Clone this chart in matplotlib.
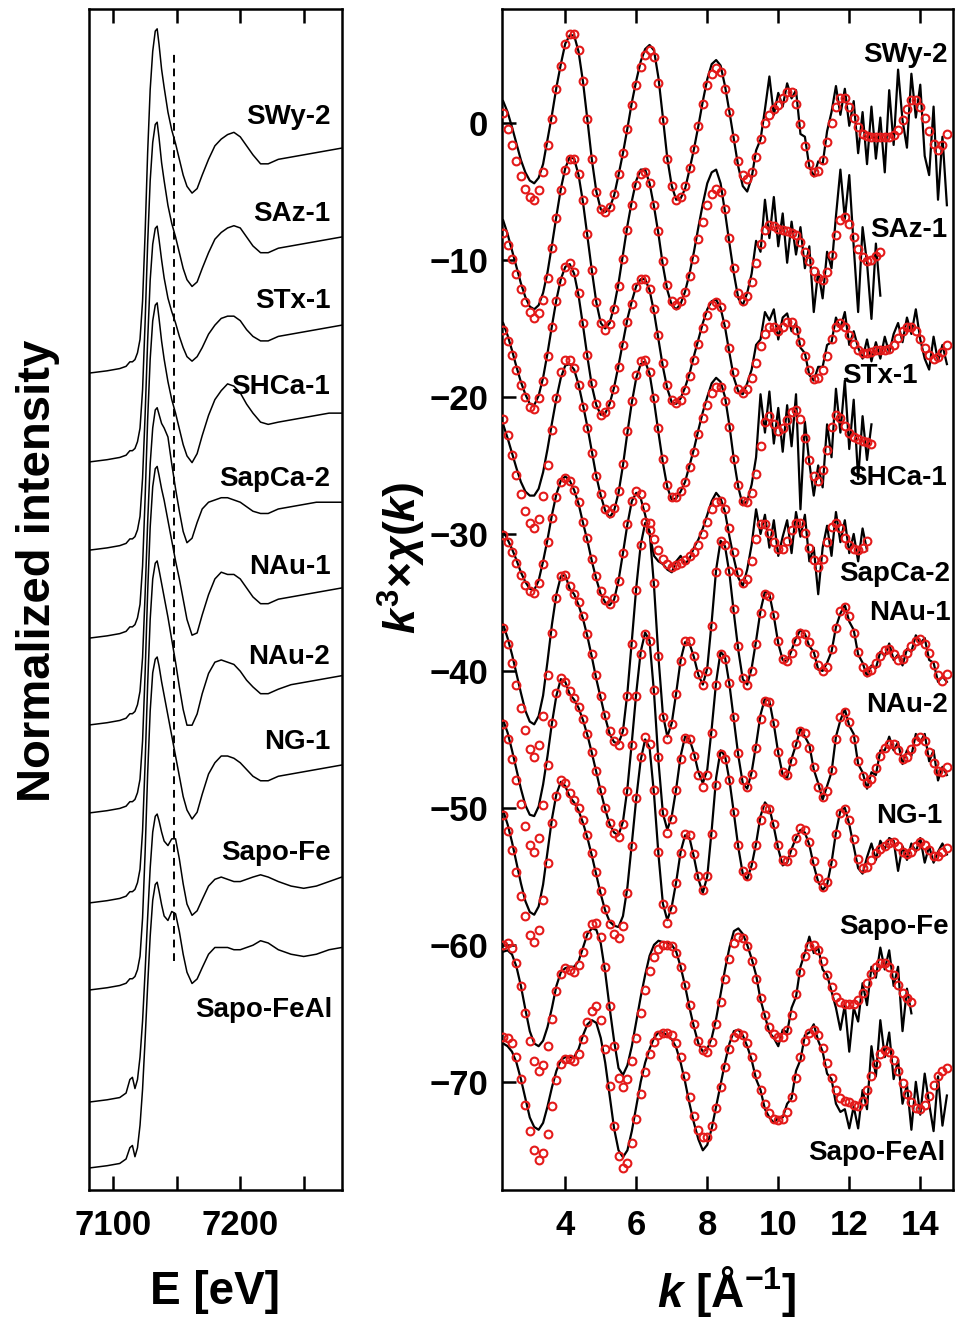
import numpy as np
import matplotlib.pyplot as plt

# Fuente tipo Arial en negrita para todo
plt.rcParams['font.family'] = ['Liberation Sans', 'DejaVu Sans']
plt.rcParams['font.weight'] = 'bold'
plt.rcParams['mathtext.fontset'] = 'custom'
plt.rcParams['mathtext.it'] = 'Liberation Sans:italic:bold'
plt.rcParams['mathtext.bf'] = 'Liberation Sans:bold'
plt.rcParams['mathtext.rm'] = 'Liberation Sans:bold'

muestras = ['SWy-2', 'SAz-1', 'STx-1', 'SHCa-1', 'SapCa-2',
            'NAu-1', 'NAu-2', 'NG-1', 'Sapo-Fe', 'Sapo-FeAl']

# ---------------- XANES (panel izquierdo) ----------------
energia = [7081, 7095, 7105, 7110, 7113, 7115, 7117, 7119, 7121, 7123, 7125, 7127,
           7129, 7131, 7133, 7134.5, 7136, 7138, 7140, 7143, 7146, 7149, 7152, 7155,
           7158, 7162, 7166, 7170, 7175, 7180, 7185, 7190, 7195, 7200, 7205, 7210,
           7216, 7222, 7230, 7240, 7250, 7260, 7270, 7280]

xanes_swy2 = [0.00, 0.01, 0.02, 0.03, 0.05, 0.05, 0.06, 0.09, 0.15, 0.32, 0.62, 0.98,
              1.26, 1.43, 1.52, 1.53, 1.46, 1.35, 1.27, 1.16, 1.08, 1.02, 0.95, 0.88,
              0.83, 0.80, 0.82, 0.88, 0.95, 1.01, 1.04, 1.06, 1.07, 1.05, 1.01, 0.97,
              0.93, 0.93, 0.95, 0.96, 0.97, 0.98, 0.99, 1.00]
xanes_saz1 = [0.00, 0.01, 0.02, 0.03, 0.05, 0.05, 0.06, 0.09, 0.15, 0.32, 0.62, 0.97,
              1.25, 1.42, 1.50, 1.51, 1.44, 1.33, 1.25, 1.14, 1.06, 1.00, 0.93, 0.86,
              0.81, 0.78, 0.80, 0.86, 0.93, 0.99, 1.02, 1.04, 1.05, 1.04, 1.00, 0.96,
              0.93, 0.93, 0.95, 0.96, 0.97, 0.98, 0.99, 1.00]
xanes_stx1 = [0.00, 0.01, 0.02, 0.03, 0.05, 0.05, 0.06, 0.09, 0.15, 0.32, 0.60, 0.93,
              1.20, 1.36, 1.43, 1.44, 1.38, 1.29, 1.21, 1.12, 1.06, 1.01, 0.95, 0.90,
              0.86, 0.84, 0.86, 0.90, 0.96, 1.00, 1.03, 1.04, 1.04, 1.02, 0.98, 0.95,
              0.93, 0.93, 0.95, 0.96, 0.97, 0.98, 0.99, 1.00]
xanes_shca1 = [0.00, 0.01, 0.02, 0.03, 0.05, 0.05, 0.06, 0.09, 0.15, 0.32, 0.62, 0.97,
               1.24, 1.41, 1.48, 1.49, 1.42, 1.32, 1.24, 1.14, 1.06, 1.00, 0.93, 0.86,
               0.81, 0.78, 0.82, 0.90, 0.99, 1.06, 1.10, 1.13, 1.12, 1.09, 1.04, 1.00,
               0.96, 0.95, 0.96, 0.97, 0.98, 0.99, 1.00, 1.00]
xanes_sapca2 = [0.00, 0.01, 0.02, 0.03, 0.05, 0.05, 0.06, 0.09, 0.15, 0.30, 0.58, 0.90,
                1.16, 1.32, 1.40, 1.41, 1.38, 1.34, 1.32, 1.28, 1.16, 1.05, 0.95, 0.86,
                0.81, 0.83, 0.90, 0.96, 0.99, 1.00, 1.01, 1.01, 1.00, 0.99, 0.97, 0.95,
                0.94, 0.94, 0.96, 0.97, 0.98, 0.99, 0.99, 0.99]
xanes_nau1 = [0.00, 0.01, 0.02, 0.03, 0.05, 0.05, 0.06, 0.09, 0.15, 0.32, 0.62, 0.98,
              1.27, 1.45, 1.53, 1.54, 1.50, 1.44, 1.39, 1.30, 1.21, 1.12, 1.04, 0.95,
              0.86, 0.79, 0.80, 0.88, 0.97, 1.04, 1.07, 1.06, 1.06, 1.04, 1.00, 0.96,
              0.93, 0.93, 0.95, 0.96, 0.97, 0.98, 0.99, 1.00]
xanes_nau2 = [0.00, 0.01, 0.02, 0.03, 0.05, 0.05, 0.06, 0.09, 0.15, 0.32, 0.62, 0.97,
              1.26, 1.44, 1.51, 1.52, 1.48, 1.42, 1.36, 1.27, 1.17, 1.07, 0.96, 0.86,
              0.79, 0.79, 0.84, 0.93, 1.02, 1.07, 1.08, 1.07, 1.06, 1.03, 0.99, 0.96,
              0.93, 0.93, 0.95, 0.97, 0.98, 0.99, 1.00, 1.01]
xanes_ng1 = [0.00, 0.01, 0.02, 0.03, 0.05, 0.05, 0.06, 0.09, 0.15, 0.32, 0.61, 0.96,
             1.24, 1.41, 1.47, 1.48, 1.44, 1.37, 1.31, 1.22, 1.13, 1.04, 0.95, 0.86,
             0.80, 0.76, 0.79, 0.87, 0.96, 1.01, 1.04, 1.04, 1.03, 1.01, 0.98, 0.95,
             0.93, 0.93, 0.95, 0.96, 0.97, 0.98, 0.99, 1.00]
xanes_sapofe = [0.00, 0.01, 0.02, 0.04, 0.10, 0.11, 0.06, 0.10, 0.20, 0.36, 0.58, 0.82,
                1.04, 1.20, 1.27, 1.28, 1.25, 1.20, 1.16, 1.14, 1.17, 1.17, 1.08, 0.97,
                0.88, 0.83, 0.85, 0.90, 0.96, 0.99, 1.00, 0.99, 0.98, 0.98, 0.99, 1.00,
                1.01, 1.00, 0.98, 0.96, 0.95, 0.96, 0.98, 1.00]
xanes_sapofeal = [0.00, 0.01, 0.02, 0.04, 0.09, 0.10, 0.05, 0.09, 0.19, 0.35, 0.57, 0.81,
                  1.03, 1.19, 1.26, 1.27, 1.23, 1.17, 1.12, 1.10, 1.14, 1.13, 1.05, 0.95,
                  0.87, 0.82, 0.84, 0.89, 0.95, 0.98, 0.98, 0.98, 0.97, 0.97, 0.98, 0.99,
                  1.01, 1.00, 0.97, 0.95, 0.94, 0.95, 0.97, 0.98]

xanes = [xanes_swy2, xanes_saz1, xanes_stx1, xanes_shca1, xanes_sapca2,
         xanes_nau1, xanes_nau2, xanes_ng1, xanes_sapofe, xanes_sapofeal]
# desplazamiento vertical de cada espectro
xanes_offsets = [3.631, 3.236, 2.844, 2.453, 2.067, 1.676, 1.276, 0.889, 0.391, 0.098]

# ---------------- EXAFS (panel derecho) ----------------
# k de 2.25 a 14.75 cada 0.125 (una fila = 1 unidad de k)
k = np.arange(2.25, 14.76, 0.125)

fit_swy2 = [0.7, -0.4, -1.6, -2.8, -3.9, -4.8, -5.4, -5.6,
            -4.9, -3.6, -1.6, 0.3, 2.5, 4.2, 5.8, 6.5,
            6.5, 5.3, 3.1, 0.3, -2.6, -5.0, -6.3, -6.5,
            -6.1, -5.2, -3.7, -2.2, -0.4, 1.3, 2.8, 4.1,
            5.0, 5.3, 4.8, 2.9, 0.2, -2.6, -4.6, -5.6,
            -5.4, -4.6, -3.3, -1.9, -0.2, 1.4, 2.8, 3.6,
            4.0, 3.7, 2.5, 0.8, -1.1, -2.8, -3.8, -4.1,
            -3.6, -2.5, -1.2, 0.0, 0.6, 1.0, 1.3, 1.8,
            2.3, 2.3, 1.4, -0.1, -1.7, -3.0, -3.6, -3.5,
            -2.7, -1.4, 0.0, 1.2, 1.85, 1.8, 1.2, 0.4,
            -0.3, -0.8, -0.95, -1.0, -1.0, -1.0, -1.0, -1.0,
            -0.9, -0.5, 0.2, 1.0, 1.7, 1.7, 1.2, 0.4,
            -0.6, -1.5, -1.95, -1.6, -0.8]
dat_swy2 = [1.6, 0.8, -0.3, -1.5, -2.7, -3.6, -4.2, -4.4,
            -4.0, -3.0, -1.2, 0.6, 2.6, 4.3, 5.8, 6.4,
            6.4, 5.2, 3.0, 0.2, -2.7, -5.0, -6.3, -6.5,
            -6.2, -5.3, -3.8, -2.2, -0.4, 1.5, 3.1, 4.5,
            5.4, 5.7, 5.3, 3.3, 0.4, -2.6, -4.6, -5.6,
            -5.5, -4.8, -3.4, -1.9, -0.2, 1.6, 3.2, 4.3,
            4.6, 4.2, 2.7, 0.8, -1.2, -3.2, -4.6, -5.0,
            -4.0, -2.0, -1.2, 1.0, 3.4, 0.6, 2.2, 1.2,
            2.9, 1.8, 2.4, -0.8, -1.0, -3.2, -3.9, -2.8,
            -3.0, -0.6, 0.8, 2.7, 0.6, 2.5, -0.2, 1.6,
            -2.2, 0.8, -3.0, 1.2, -2.6, 0.4, -3.6, 2.4,
            -1.6, 3.9, 0.2, -1.8, 3.6, 0.4, 2.8, -2.4,
            -3.8, 1.2, -5.6, -1.0, -6.0]

fit_saz1 = [-8.0, -8.9, -9.9, -11.0, -12.1, -13.1, -13.8, -14.2,
            -13.9, -12.9, -11.3, -9.1, -6.9, -4.9, -3.4, -2.6,
            -2.6, -3.7, -5.6, -8.1, -10.7, -13.1, -14.6, -15.1,
            -14.7, -13.6, -11.9, -9.9, -7.8, -6.0, -4.5, -3.7,
            -3.6, -4.4, -6.0, -7.9, -10.1, -11.8, -13.0, -13.3,
            -13.0, -12.3, -11.2, -9.9, -8.5, -7.2, -6.0, -5.2,
            -4.8, -5.0, -6.3, -8.4, -10.6, -12.4, -13.0, -12.6,
            -11.6, -10.2, -8.8, -7.8, -7.45, -7.5, -7.7, -7.8,
            -7.9, -8.0, -8.2, -8.7, -9.4, -10.1, -10.8, -11.3,
            -11.45, -10.9, -9.6, -8.2, -7.1, -6.85, -7.4, -8.3,
            -9.2, -9.8, -10.1, -10.0, -9.7, -9.4]
dat_saz1 = [-7.1, -8.1, -9.3, -10.5, -11.7, -12.7, -13.4, -13.6,
            -13.3, -12.4, -10.9, -8.9, -6.8, -4.8, -3.3, -2.5,
            -2.6, -3.8, -5.8, -8.3, -10.8, -13.1, -14.6, -15.0,
            -14.6, -13.4, -11.7, -9.6, -7.5, -5.7, -4.2, -3.4,
            -3.4, -4.4, -6.1, -8.1, -10.4, -12.2, -13.3, -13.6,
            -13.2, -12.3, -11.0, -9.4, -7.6, -5.9, -4.4, -3.6,
            -3.4, -4.4, -6.5, -8.8, -11.0, -12.8, -13.3, -12.4,
            -11.0, -8.6, -9.4, -5.6, -8.4, -5.4, -9.0, -6.6,
            -10.2, -7.2, -9.6, -7.6, -10.6, -9.0, -13.8, -10.8,
            -12.8, -9.4, -10.6, -6.8, -3.4, -7.0, -3.8, -9.0,
            -13.8, -7.6, -10.2, -14.3, -8.8, -12.6]

fit_stx1 = [-15.1, -15.9, -16.9, -18.0, -19.1, -20.0, -20.7, -20.9,
            -20.1, -18.8, -17.0, -14.9, -13.0, -11.5, -10.5, -10.25,
            -10.9, -12.4, -14.6, -16.9, -19.0, -20.5, -21.3, -21.1,
            -20.5, -19.4, -17.8, -16.2, -14.5, -13.2, -12.0, -11.4,
            -11.4, -12.1, -13.6, -15.5, -17.5, -19.1, -20.2, -20.45,
            -20.2, -19.5, -18.5, -17.3, -16.1, -15.0, -14.0, -13.3,
            -13.05, -13.4, -14.7, -16.4, -18.2, -19.4, -19.7, -19.4,
            -18.6, -17.5, -16.3, -15.4, -14.9, -14.9, -15.2, -14.9,
            -14.5, -14.5, -15.1, -16.0, -17.0, -18.0, -18.7, -18.6,
            -18.0, -17.0, -15.8, -14.9, -14.6, -14.9, -15.5, -16.1,
            -16.6, -16.8, -16.8, -16.7, -16.6, -16.6, -16.6, -16.5,
            -16.2, -15.7, -15.2, -14.9, -14.9, -15.2, -15.8, -16.4,
            -16.9, -17.2, -17.1, -16.7, -16.2]
dat_stx1 = [-14.6, -15.5, -16.6, -17.8, -18.9, -19.8, -20.5, -20.6,
            -19.9, -18.6, -16.8, -14.8, -12.9, -11.4, -10.5, -10.3,
            -11.0, -12.6, -14.8, -17.1, -19.2, -20.6, -21.3, -21.2,
            -20.5, -19.3, -17.7, -16.0, -14.3, -13.0, -11.9, -11.4,
            -11.4, -12.2, -13.8, -15.8, -17.8, -19.4, -20.4, -20.5,
            -20.1, -19.3, -18.3, -17.0, -15.8, -14.6, -13.6, -13.0,
            -12.9, -13.5, -14.9, -16.8, -18.6, -19.6, -19.8, -19.0,
            -18.0, -16.2, -15.8, -13.8, -14.4, -13.6, -15.8, -14.2,
            -13.9, -15.2, -14.6, -16.4, -16.8, -18.4, -18.8, -17.8,
            -17.8, -16.2, -16.0, -14.2, -15.0, -13.8, -16.2, -15.2,
            -16.4, -17.2, -15.8, -17.4, -16.0, -17.2, -15.6, -16.8,
            -15.4, -14.6, -16.0, -14.2, -15.4, -13.6, -15.8, -17.2,
            -18.0, -15.6, -17.4, -16.2, -17.6]

fit_shca1 = [-21.6, -22.8, -24.2, -25.7, -27.1, -28.3, -29.2, -29.6,
             -28.9, -27.2, -25.0, -22.4, -20.1, -18.2, -17.3, -17.3,
             -17.9, -19.1, -20.7, -22.3, -24.1, -25.8, -27.1, -28.2,
             -28.5, -28.1, -26.9, -24.9, -22.5, -20.3, -18.4, -17.4,
             -17.3, -18.2, -20.1, -22.3, -24.5, -26.4, -27.3, -27.3,
             -26.9, -26.2, -25.1, -24.0, -22.7, -21.5, -20.6, -19.7,
             -19.3, -19.3, -20.3, -22.2, -24.5, -26.4, -27.6, -27.7,
             -27.0, -25.6, -23.6, -21.8, -21.4, -22.0, -22.5, -22.3,
             -21.7, -21.1, -20.95, -21.6, -23.0, -24.6, -25.8, -26.1,
             -25.3, -23.9, -22.2, -21.3, -21.5, -22.1, -22.6, -22.9,
             -23.1, -23.2, -23.3, -23.4]
dat_shca1 = [-22.0, -23.0, -24.1, -25.2, -26.2, -26.9, -27.2, -27.2,
             -26.7, -25.5, -23.8, -21.9, -20.1, -18.6, -17.7, -17.6,
             -18.0, -19.1, -20.6, -22.2, -24.0, -25.8, -27.2, -28.3,
             -28.8, -28.3, -27.0, -25.0, -22.6, -20.4, -18.6, -17.6,
             -17.4, -18.3, -20.3, -22.6, -24.8, -26.6, -27.5, -27.4,
             -26.9, -26.2, -25.0, -23.8, -22.4, -21.1, -20.0, -19.0,
             -18.6, -18.9, -20.0, -22.1, -24.6, -26.6, -27.9, -27.6,
             -26.4, -24.4, -19.8, -22.6, -19.6, -23.4, -20.8, -24.0,
             -20.6, -23.6, -19.8, -28.2, -21.8, -24.8, -27.2, -25.0,
             -26.6, -22.0, -24.4, -19.4, -22.6, -18.8, -23.8, -20.2,
             -26.0, -21.4, -24.6, -22.0]

fit_sapca2 = [-30.1, -30.6, -31.3, -32.1, -33.0, -33.7, -34.2, -34.3,
              -33.6, -32.2, -30.6, -28.8, -27.3, -26.2, -25.9, -26.1,
              -26.8, -27.7, -29.1, -30.3, -31.8, -33.1, -34.2, -34.8,
              -35.1, -34.7, -33.4, -31.4, -29.3, -27.6, -26.9, -27.1,
              -28.0, -29.2, -30.4, -31.2, -31.8, -32.2, -32.4, -32.3,
              -32.1, -31.9, -31.6, -31.3, -30.8, -30.0, -29.1, -28.2,
              -27.7, -27.6, -28.2, -29.6, -31.3, -32.8, -33.6, -33.3,
              -32.0, -30.4, -29.3, -29.3, -29.9, -30.6, -31.1, -31.1,
              -30.5, -29.7, -29.2, -29.2, -29.9, -31.0, -31.9, -32.4,
              -31.8, -30.6, -29.5, -29.2, -29.6, -30.3, -30.8, -31.1,
              -31.2, -31.0, -30.5]
dat_sapca2 = [-29.8, -30.4, -31.1, -31.9, -32.8, -33.5, -34.0, -34.1,
              -33.4, -32.0, -30.4, -28.6, -27.1, -26.1, -25.8, -26.1,
              -26.8, -27.8, -29.2, -30.5, -32.0, -33.3, -34.4, -35.0,
              -35.2, -34.8, -33.4, -31.4, -29.3, -27.6, -27.0, -27.4,
              -28.6, -30.0, -31.6, -32.0, -32.2, -32.6, -32.8, -32.0,
              -31.6, -32.2, -31.8, -31.0, -30.4, -29.6, -28.6, -27.6,
              -27.0, -27.4, -28.4, -30.2, -31.8, -33.2, -33.8, -32.6,
              -30.8, -28.2, -30.0, -28.6, -31.0, -29.0, -31.6, -30.2,
              -29.0, -31.4, -28.4, -30.2, -28.6, -32.0, -31.0, -34.4,
              -31.0, -29.4, -31.6, -28.4, -30.6, -29.0, -31.4, -30.0,
              -32.0, -29.6, -31.2]

fit_nau1 = [-36.9, -38.0, -39.4, -41.0, -42.7, -44.3, -45.7, -46.3,
            -45.4, -43.3, -40.3, -37.2, -34.7, -33.1, -33.0, -33.8,
            -34.4, -35.0, -36.0, -37.3, -38.8, -40.3, -41.8, -43.2,
            -44.4, -45.1, -45.4, -44.4, -41.8, -38.0, -34.1, -30.8,
            -29.1, -29.7, -33.6, -38.9, -43.4, -45.0, -43.9, -41.7,
            -39.3, -37.8, -37.8, -38.9, -40.2, -41.0, -40.0, -36.7,
            -32.8, -30.5, -30.8, -32.7, -35.5, -38.2, -40.5, -41.0,
            -40.0, -38.0, -35.8, -34.4, -34.5, -35.9, -37.8, -39.1,
            -39.3, -38.7, -37.8, -37.2, -37.3, -37.9, -38.8, -39.6,
            -40.0, -39.7, -38.4, -36.9, -35.6, -35.3, -36.0, -37.2,
            -38.6, -39.7, -40.1, -39.9, -39.4, -38.9, -38.5, -38.4,
            -38.8, -39.2, -39.1, -38.7, -38.2, -37.8, -37.7, -38.0,
            -38.7, -39.6, -40.3, -40.7, -40.2]
dat_nau1 = [-36.6, -37.6, -38.8, -40.2, -41.6, -42.9, -43.7, -43.9,
            -43.3, -41.8, -39.3, -36.6, -34.4, -33.1, -33.0, -34.0,
            -34.4, -35.2, -36.2, -37.5, -39.0, -40.6, -42.0, -43.4,
            -44.6, -45.2, -45.3, -44.4, -41.6, -37.8, -33.9, -30.8,
            -29.2, -29.8, -33.8, -39.0, -43.2, -44.8, -43.8, -41.6,
            -39.2, -37.9, -38.0, -39.0, -40.3, -41.0, -39.8, -36.4,
            -32.6, -30.5, -30.9, -32.9, -35.8, -38.5, -40.6, -41.0,
            -39.8, -37.8, -35.6, -34.2, -34.4, -36.0, -38.0, -39.2,
            -39.3, -38.5, -37.6, -37.0, -37.3, -38.2, -38.6, -39.9,
            -40.0, -39.4, -38.6, -36.8, -35.8, -35.2, -36.4, -37.0,
            -38.8, -39.4, -40.4, -39.6, -39.8, -38.6, -38.9, -38.0,
            -39.2, -38.8, -39.6, -38.4, -38.6, -37.4, -38.0, -37.6,
            -39.2, -39.4, -40.8, -40.4, -40.8]

fit_nau2 = [-43.9, -45.0, -46.4, -48.0, -49.7, -51.3, -52.7, -53.2,
            -52.2, -49.8, -46.9, -43.8, -41.6, -40.5, -40.8, -41.5,
            -42.0, -42.6, -43.5, -44.6, -45.9, -47.3, -48.7, -50.0,
            -51.1, -51.8, -52.1, -51.2, -48.8, -45.4, -41.8, -38.8,
            -37.3, -37.8, -41.4, -46.3, -50.3, -51.8, -50.8, -48.7,
            -46.4, -44.9, -45.0, -46.2, -47.6, -48.5, -47.6, -44.5,
            -41.0, -38.8, -39.1, -40.9, -43.4, -46.0, -48.0, -48.5,
            -47.5, -45.6, -43.5, -42.2, -42.3, -43.8, -45.9, -47.4,
            -47.6, -46.6, -45.3, -44.4, -44.5, -45.6, -47.0, -48.5,
            -49.2, -48.8, -47.2, -45.0, -43.4, -43.0, -43.7, -45.0,
            -46.6, -47.7, -48.2, -47.9, -47.1, -46.2, -45.6, -45.3,
            -45.3, -45.8, -46.4, -46.3, -45.7, -45.1, -44.8, -45.1,
            -45.9, -46.7, -47.3, -47.4, -47.0]
dat_nau2 = [-43.6, -44.5, -45.8, -47.2, -48.6, -49.8, -50.5, -50.6,
            -49.9, -48.3, -46.2, -43.8, -41.8, -40.6, -40.8, -41.7,
            -42.1, -42.7, -43.6, -44.7, -46.0, -47.4, -48.8, -50.1,
            -51.2, -51.8, -52.0, -51.0, -48.6, -45.2, -41.6, -38.6,
            -37.2, -37.8, -41.6, -46.6, -50.4, -51.6, -50.6, -48.6,
            -46.2, -44.8, -45.0, -46.0, -47.4, -48.2, -47.2, -44.2,
            -40.8, -38.6, -39.0, -41.0, -43.6, -46.2, -48.2, -48.6,
            -47.4, -45.4, -43.2, -42.0, -42.2, -43.9, -46.0, -47.6,
            -47.8, -46.4, -45.4, -44.2, -44.8, -45.4, -47.2, -48.2,
            -49.4, -48.4, -47.4, -44.8, -43.6, -42.8, -44.0, -44.6,
            -46.8, -47.4, -48.6, -47.4, -47.6, -45.8, -45.8, -44.8,
            -45.8, -45.2, -46.8, -45.8, -46.2, -44.6, -45.2, -44.6,
            -46.6, -45.8, -48.0, -47.0, -47.6]

fit_ng1 = [-50.5, -51.7, -53.1, -54.7, -56.4, -57.9, -59.3, -59.8,
           -58.9, -56.7, -54.0, -51.1, -49.1, -48.0, -48.2, -48.9,
           -49.4, -50.0, -50.9, -52.0, -53.3, -54.7, -56.1, -57.4,
           -58.5, -59.2, -59.5, -58.6, -56.2, -52.8, -49.3, -46.3,
           -44.8, -45.3, -48.7, -53.2, -57.0, -58.4, -57.4, -55.5,
           -53.3, -51.9, -52.0, -53.4, -55.0, -56.0, -55.0, -51.9,
           -48.3, -46.1, -46.4, -48.0, -50.3, -52.7, -54.6, -55.0,
           -54.2, -52.7, -50.9, -50.0, -50.1, -51.2, -52.7, -53.8,
           -53.9, -53.2, -52.2, -51.5, -51.6, -52.5, -53.9, -55.1,
           -55.8, -55.4, -54.0, -51.9, -50.4, -50.1, -50.9, -52.3,
           -53.7, -54.4, -54.3, -53.8, -53.3, -53.0, -52.8, -52.6,
           -52.5, -52.8, -53.2, -53.4, -53.2, -52.8, -52.5, -52.7,
           -53.1, -53.5, -53.5, -53.2, -52.9]
dat_ng1 = [-50.2, -51.2, -52.5, -54.0, -55.5, -56.8, -57.6, -57.8,
           -57.2, -55.6, -53.2, -50.8, -49.0, -48.1, -48.4, -49.2,
           -49.6, -50.2, -51.1, -52.2, -53.5, -54.9, -56.3, -57.5,
           -58.3, -58.6, -58.7, -57.9, -55.8, -52.6, -49.3, -46.5,
           -45.0, -45.6, -49.0, -53.4, -57.0, -58.2, -57.2, -55.4,
           -53.2, -52.0, -52.2, -53.6, -55.2, -56.2, -55.0, -51.6,
           -47.8, -45.8, -46.2, -48.0, -50.4, -52.9, -54.8, -55.2,
           -54.2, -52.6, -50.6, -49.6, -50.0, -51.4, -53.0, -54.2,
           -54.0, -53.0, -52.2, -51.6, -51.8, -52.7, -54.2, -55.4,
           -56.0, -55.6, -54.0, -51.8, -50.2, -50.0, -51.2, -52.8,
           -54.4, -54.8, -53.6, -52.6, -53.8, -52.4, -53.0, -52.2,
           -52.4, -54.6, -52.8, -53.8, -52.6, -53.2, -52.2, -54.0,
           -52.8, -54.0, -53.2, -52.6, -53.4]

fit_sapofe = [-60.0, -59.9, -60.2, -61.3, -63.0, -65.0, -67.0, -68.5,
              -69.2, -68.8, -67.4, -65.4, -63.4, -62.1, -61.7, -61.8,
              -62.0, -61.5, -60.5, -59.3, -58.5, -58.4, -59.4, -61.6,
              -64.5, -67.4, -69.7, -70.4, -69.8, -68.5, -66.8, -65.0,
              -63.3, -61.9, -60.9, -60.3, -60.0, -60.0, -60.1, -60.6,
              -61.6, -62.9, -64.4, -65.8, -67.0, -67.7, -67.8, -67.1,
              -65.8, -64.2, -62.5, -61.0, -59.9, -59.4, -59.5, -60.1,
              -61.2, -62.5, -63.9, -65.1, -66.0, -66.5, -66.7, -66.7,
              -66.2, -65.1, -63.6, -62.0, -60.8, -60.1, -60.0, -60.4,
              -61.2, -62.2, -63.1, -63.8, -64.2, -64.3, -64.3, -64.3,
              -64.0, -63.5, -62.8, -62.1, -61.6, -61.3, -61.3, -61.6,
              -62.2, -62.9, -63.5, -63.9, -64.2]
dat_sapofe = [-60.5, -60.4, -60.7, -61.6, -63.0, -64.7, -66.3, -67.2,
              -67.4, -67.0, -66.0, -64.6, -63.0, -62.0, -61.7, -61.6,
              -61.6, -61.2, -60.2, -59.2, -58.8, -58.9, -59.9, -62.0,
              -64.6, -67.0, -69.0, -69.5, -68.8, -67.4, -65.6, -63.8,
              -62.2, -60.8, -60.0, -59.7, -59.8, -59.8, -60.0, -60.5,
              -61.6, -63.0, -64.6, -66.0, -67.2, -67.8, -67.6, -66.8,
              -65.4, -63.6, -61.8, -60.2, -59.0, -58.8, -59.2, -60.0,
              -61.0, -62.2, -64.0, -65.2, -66.4, -66.8, -67.4, -66.2,
              -66.4, -64.6, -63.8, -61.6, -60.6, -59.4, -60.6, -60.2,
              -61.8, -62.2, -63.4, -64.6, -66.2, -64.4, -67.8, -64.6,
              -65.6, -62.8, -64.4, -61.6, -62.4, -60.2, -61.8, -60.4,
              -63.0, -61.6, -66.3, -63.2, -65.0]

fit_sapofeal = [-66.7, -66.8, -67.2, -68.2, -69.8, -71.7, -73.6, -75.0,
                -75.7, -75.2, -73.8, -71.8, -69.9, -68.7, -68.3, -68.3,
                -68.5, -68.0, -66.9, -65.6, -64.8, -64.5, -65.5, -67.6,
                -70.3, -73.2, -75.4, -76.3, -75.9, -74.5, -72.7, -70.9,
                -69.3, -68.0, -67.1, -66.6, -66.4, -66.4, -66.6, -67.2,
                -68.2, -69.6, -71.1, -72.5, -73.5, -74.0, -74.0, -73.2,
                -71.9, -70.4, -68.9, -67.6, -66.7, -66.4, -66.6, -67.2,
                -68.2, -69.4, -70.6, -71.6, -72.3, -72.7, -72.8, -72.7,
                -72.2, -71.1, -69.7, -68.2, -67.0, -66.4, -66.2, -66.6,
                -67.5, -68.6, -69.7, -70.6, -71.2, -71.4, -71.5, -71.7,
                -71.8, -71.4, -70.6, -69.6, -68.7, -68.0, -67.7, -67.8,
                -68.4, -69.2, -70.1, -70.9, -71.5, -71.9, -72.0, -71.7,
                -71.0, -70.2, -69.6, -69.2, -69.0]
dat_sapofeal = [-67.2, -67.4, -67.8, -68.6, -69.8, -71.2, -72.6, -73.3,
                -73.5, -73.0, -71.8, -70.4, -69.2, -68.4, -68.2, -68.2,
                -68.2, -67.6, -66.6, -65.8, -65.5, -65.7, -66.8, -68.6,
                -71.0, -73.4, -75.0, -75.5, -75.0, -73.6, -71.8, -70.0,
                -68.6, -67.6, -66.8, -66.4, -66.4, -66.6, -66.9, -67.5,
                -68.6, -70.0, -71.6, -73.0, -74.2, -75.0, -74.6, -73.4,
                -71.8, -70.2, -68.6, -67.2, -66.3, -66.2, -66.6, -67.4,
                -68.4, -69.8, -70.6, -72.0, -72.6, -73.0, -72.6, -72.6,
                -71.6, -71.2, -69.2, -68.4, -66.6, -66.4, -65.8, -67.0,
                -67.8, -69.4, -69.8, -71.6, -72.2, -72.0, -73.4, -71.8,
                -73.4, -70.6, -72.0, -67.4, -69.6, -65.5, -68.2, -66.4,
                -69.8, -68.4, -71.6, -70.2, -73.5, -70.0, -72.4, -69.4,
                -71.6, -73.6, -69.6, -73.2, -71.0]

ajustes = [fit_swy2, fit_saz1, fit_stx1, fit_shca1, fit_sapca2,
           fit_nau1, fit_nau2, fit_ng1, fit_sapofe, fit_sapofeal]
datos = [dat_swy2, dat_saz1, dat_stx1, dat_shca1, dat_sapca2,
         dat_nau1, dat_nau2, dat_ng1, dat_sapofe, dat_sapofeal]

# Posiciones de las etiquetas (x, y en coordenadas de datos)
etiq_izq = [(7271, 4.77), (7271, 4.34), (7271, 3.95), (7271, 3.57), (7271, 3.16),
            (7271, 2.77), (7271, 2.37), (7271, 1.99), (7271, 1.50), (7273, 0.80)]
etiq_der = [(14.76, 5.0), (14.76, -7.8), (13.92, -18.5), (14.76, -25.9), (14.85, -32.9),
            (14.85, -35.8), (14.79, -42.5), (14.62, -50.6), (14.79, -58.7), (14.70, -75.2)]

# ---------------- Figura ----------------
fig = plt.figure(figsize=(9.6, 13.18), dpi=100)
ax1 = fig.add_axes([0.093, 0.0971, 0.263, 0.8958])
ax2 = fig.add_axes([0.523, 0.0971, 0.470, 0.8958])

# Panel izquierdo: espectros XANES apilados
for mu, off in zip(xanes, xanes_offsets):
    ax1.plot(energia, np.array(mu) + off, color='black', lw=1.1)
ax1.plot([7148, 7148], [1.02, 5.05], color='black', lw=1.4, ls=(0, (4, 3)))
for nombre, (x, y) in zip(muestras, etiq_izq):
    ax1.text(x, y, nombre, ha='right', va='center', fontsize=20, fontweight='bold')

ax1.set_xlim(7081, 7280)
ax1.set_ylim(0, 5.2476)
ax1.set_xticks([7100, 7150, 7200, 7250])
ax1.set_xticklabels(['7100', '', '7200', ''])
ax1.set_yticks([])

# Panel derecho: EXAFS, datos (línea negra) y ajuste (círculos rojos)
for dat, fit in zip(datos, ajustes):
    ax2.plot(k[:len(dat)], dat, color='black', lw=1.6, zorder=2)
    ax2.plot(k[:len(fit)], fit, ls='none', marker='o', ms=5.6, mfc='none',
             mec='#e41a1a', mew=1.5, zorder=3)
for nombre, (x, y) in zip(muestras, etiq_der):
    ax2.text(x, y, nombre, ha='right', va='center', fontsize=20, fontweight='bold', zorder=5)

ax2.set_xlim(2.22, 14.93)
ax2.set_ylim(-77.9, 8.3)
ax2.set_xticks([4, 6, 8, 10, 12, 14])
ax2.set_yticks([0, -10, -20, -30, -40, -50, -60, -70])

for ax in (ax1, ax2):
    for s in ax.spines.values():
        s.set_linewidth(1.8)
    ax.tick_params(direction='in', length=10, width=1.8, labelsize=25, pad=14, top=True)
    for t in ax.get_xticklabels() + ax.get_yticklabels():
        t.set_fontweight('bold')
ax2.tick_params(axis='y', pad=10)

# Títulos de ejes
fig.text(0.04, 0.567, 'Normalized intensity', rotation=90, ha='center', va='center',
         fontsize=34, fontweight='bold')
fig.text(0.224, 0.02, 'E [eV]', ha='center', va='center', fontsize=33, fontweight='bold')
fig.text(0.419, 0.577, r'$\mathit{k}^{\mathbf{3}}$×$\mathit{χ}$($\mathit{k}$)', rotation=90,
         ha='center', va='center', fontsize=32, fontweight='bold')
fig.text(0.757, 0.02, r'$\mathit{k}$ [Å$^{\mathbf{-1}}$]', ha='center', va='center',
         fontsize=33, fontweight='bold')

plt.savefig('out.png', dpi=100)
